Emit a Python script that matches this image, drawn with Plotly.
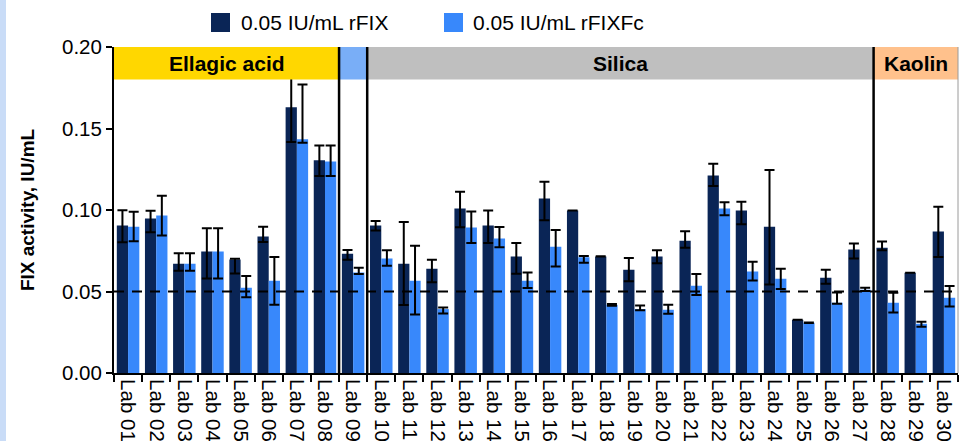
import plotly.graph_objects as go

labs = [f"Lab {i:02d}" for i in range(1, 31)]

rfix = [0.0905, 0.0948, 0.0671, 0.0745, 0.0697, 0.0837, 0.1631, 0.1305, 0.0732, 0.0905,
        0.0671, 0.0640, 0.1009, 0.0905, 0.0714, 0.1071, 0.0997, 0.0714, 0.0634, 0.0714,
        0.0812, 0.1212, 0.0997, 0.0898, 0.0326, 0.0585, 0.0757, 0.0769, 0.0615, 0.0868]
rfix_up = [0.0094, 0.0047, 0.0063, 0.0143, 0.0004, 0.0061, 0.0214, 0.0090, 0.0023, 0.0028,
           0.0256, 0.0055, 0.0103, 0.0092, 0.0084, 0.0102, 0.0, 0.0002, 0.0071, 0.0039,
           0.0058, 0.0072, 0.0053, 0.0347, 0.0, 0.0049, 0.0037, 0.0037, 0.0, 0.0152]
rfix_dn = [0.0103, 0.0085, 0.0043, 0.0165, 0.0086, 0.0033, 0.0214, 0.0097, 0.0037, 0.0031,
           0.0254, 0.0084, 0.0115, 0.0107, 0.0105, 0.0134, 0.0, 0.0, 0.0071, 0.0040,
           0.0043, 0.0065, 0.0084, 0.0355, 0.0, 0.0037, 0.0054, 0.0016, 0.0, 0.0156]

rfixfc = [0.0898, 0.0966, 0.0671, 0.0745, 0.0523, 0.0566, 0.1434, 0.1298, 0.0617, 0.0702,
          0.0566, 0.0392, 0.0892, 0.0825, 0.0566, 0.0775, 0.0710, 0.0418, 0.0392, 0.0388,
          0.0535, 0.1009, 0.0622, 0.0578, 0.0308, 0.0431, 0.0511, 0.0431, 0.0302, 0.0462]
rfixfc_up = [0.0091, 0.0121, 0.0063, 0.0143, 0.0072, 0.0146, 0.0336, 0.0097, 0.0029, 0.0051,
             0.0214, 0.0010, 0.0099, 0.0071, 0.0051, 0.0103, 0.0008, 0.0006, 0.0022, 0.0030,
             0.0072, 0.0039, 0.0061, 0.0062, 0.0002, 0.0063, 0.0012, 0.0061, 0.0012, 0.0072]
rfixfc_dn = [0.0090, 0.0123, 0.0043, 0.0165, 0.0058, 0.0148, 0.0021, 0.0090, 0.0010, 0.0044,
             0.0207, 0.0027, 0.0094, 0.0054, 0.0045, 0.0121, 0.0033, 0.0006, 0.0007, 0.0025,
             0.0057, 0.0041, 0.0054, 0.0063, 0.0002, 0.0006, 0.0008, 0.0060, 0.0019, 0.0054]

series_names = ["0.05 IU/mL rFIX", "0.05 IU/mL rFIXFc"]
groups = [("Ellagic acid", 0, 7, "#FFD700"), ("", 8, 8, "#79AEF7"),
          ("Silica", 9, 26, "#BFBFBF"), ("Kaolin", 27, 29, "#FFC18C")]
ref_level = 0.05
yticks = [0.0, 0.05, 0.10, 0.15, 0.20]

dark = "#0A2556"
light = "#3888FB"
FONT = "Arial, Liberation Sans, sans-serif"

W, H = 959, 441
L, R, T, B = 114, 1, 47, 68
pw, ph = W - L - R, H - T - B


def px(x):
    return (x - L) / pw


def py(y):
    return (H - B - y) / ph


fig = go.Figure()
fig.add_trace(go.Bar(x=labs, y=rfix, name=series_names[0], marker_color=dark,
                     marker_line_width=0, showlegend=False,
                     error_y=dict(type="data", symmetric=False, array=rfix_up, arrayminus=rfix_dn,
                                  color="black", thickness=2, width=5)))
fig.add_trace(go.Bar(x=labs, y=rfixfc, name=series_names[1], marker_color=light,
                     marker_line_width=0, showlegend=False,
                     error_y=dict(type="data", symmetric=False, array=rfixfc_up, arrayminus=rfixfc_dn,
                                  color="black", thickness=2, width=5)))

shapes = []
annotations = []
# header bands
for name, a, b, col in groups:
    shapes.append(dict(type="rect", xref="x", yref="y", x0=a - 0.5, x1=b + 0.5, y0=0.18, y1=0.2,
                       fillcolor=col, line_width=0, layer="above"))
    if name:
        annotations.append(dict(x=(a + b) / 2, y=0.19, xref="x", yref="y", text=f"<b>{name}</b>",
                                showarrow=False, font=dict(size=21, color="black", family=FONT)))
# separators
for a in [7.5, 8.5, 26.5]:
    shapes.append(dict(type="line", xref="x", yref="y", x0=a, x1=a, y0=0, y1=0.2,
                       line=dict(color="black", width=2.5), layer="above"))
# right edge
shapes.append(dict(type="line", xref="paper", yref="y", x0=1, x1=1, y0=0, y1=0.2,
                   line=dict(color="#9A9A9A", width=1), layer="above"))
# reference line
shapes.append(dict(type="line", xref="paper", yref="y", x0=0, x1=1, y0=ref_level, y1=ref_level,
                   line=dict(color="black", width=2, dash="10px,8px"), layer="above"))
# left page strip
shapes.append(dict(type="rect", xref="paper", yref="paper", x0=px(0), x1=px(6), y0=py(H), y1=py(0),
                   fillcolor="#C9DCF7", line_width=0, layer="above"))
# manual legend
for (x0, col, txt, tx) in [(211, dark, series_names[0], 239), (444, light, series_names[1], 471)]:
    shapes.append(dict(type="rect", xref="paper", yref="paper", x0=px(x0), x1=px(x0 + 19),
                       y0=py(32), y1=py(13), fillcolor=col, line_width=0))
    annotations.append(dict(x=px(tx), y=py(23), xref="paper", yref="paper", text=txt,
                            xanchor="left", yanchor="middle", showarrow=False,
                            font=dict(size=21, color="black", family=FONT)))

fig.update_layout(
    width=W, height=H,
    margin=dict(l=L, r=R, t=T, b=B, autoexpand=False),
    paper_bgcolor="white", plot_bgcolor="white",
    barmode="group", bargap=0.2, bargroupgap=0,
    font=dict(family=FONT, color="black", size=20.5),
    shapes=shapes, annotations=annotations,
    showlegend=False,
)
fig.update_xaxes(type="category", range=[-0.5, 29.5], showline=True, linecolor="black", linewidth=2,
                 ticks="outside", tickson="boundaries", ticklen=7, tickwidth=2, tickcolor="black",
                 tickangle=90, showgrid=False, zeroline=False, automargin=False,
                 tickfont=dict(size=20.5, family=FONT))
fig.update_yaxes(range=[0, 0.2], tickvals=yticks, tickformat=".2f", showline=True, linecolor="black",
                 linewidth=2, ticks="outside", ticklen=6, tickwidth=2, tickcolor="black",
                 showgrid=False, zeroline=False, automargin=False,
                 title=dict(text="<b>FIX activity, IU/mL</b>", font=dict(size=19, family=FONT), standoff=22),
                 tickfont=dict(size=20.5, family=FONT))

fig.write_html("out.html")
